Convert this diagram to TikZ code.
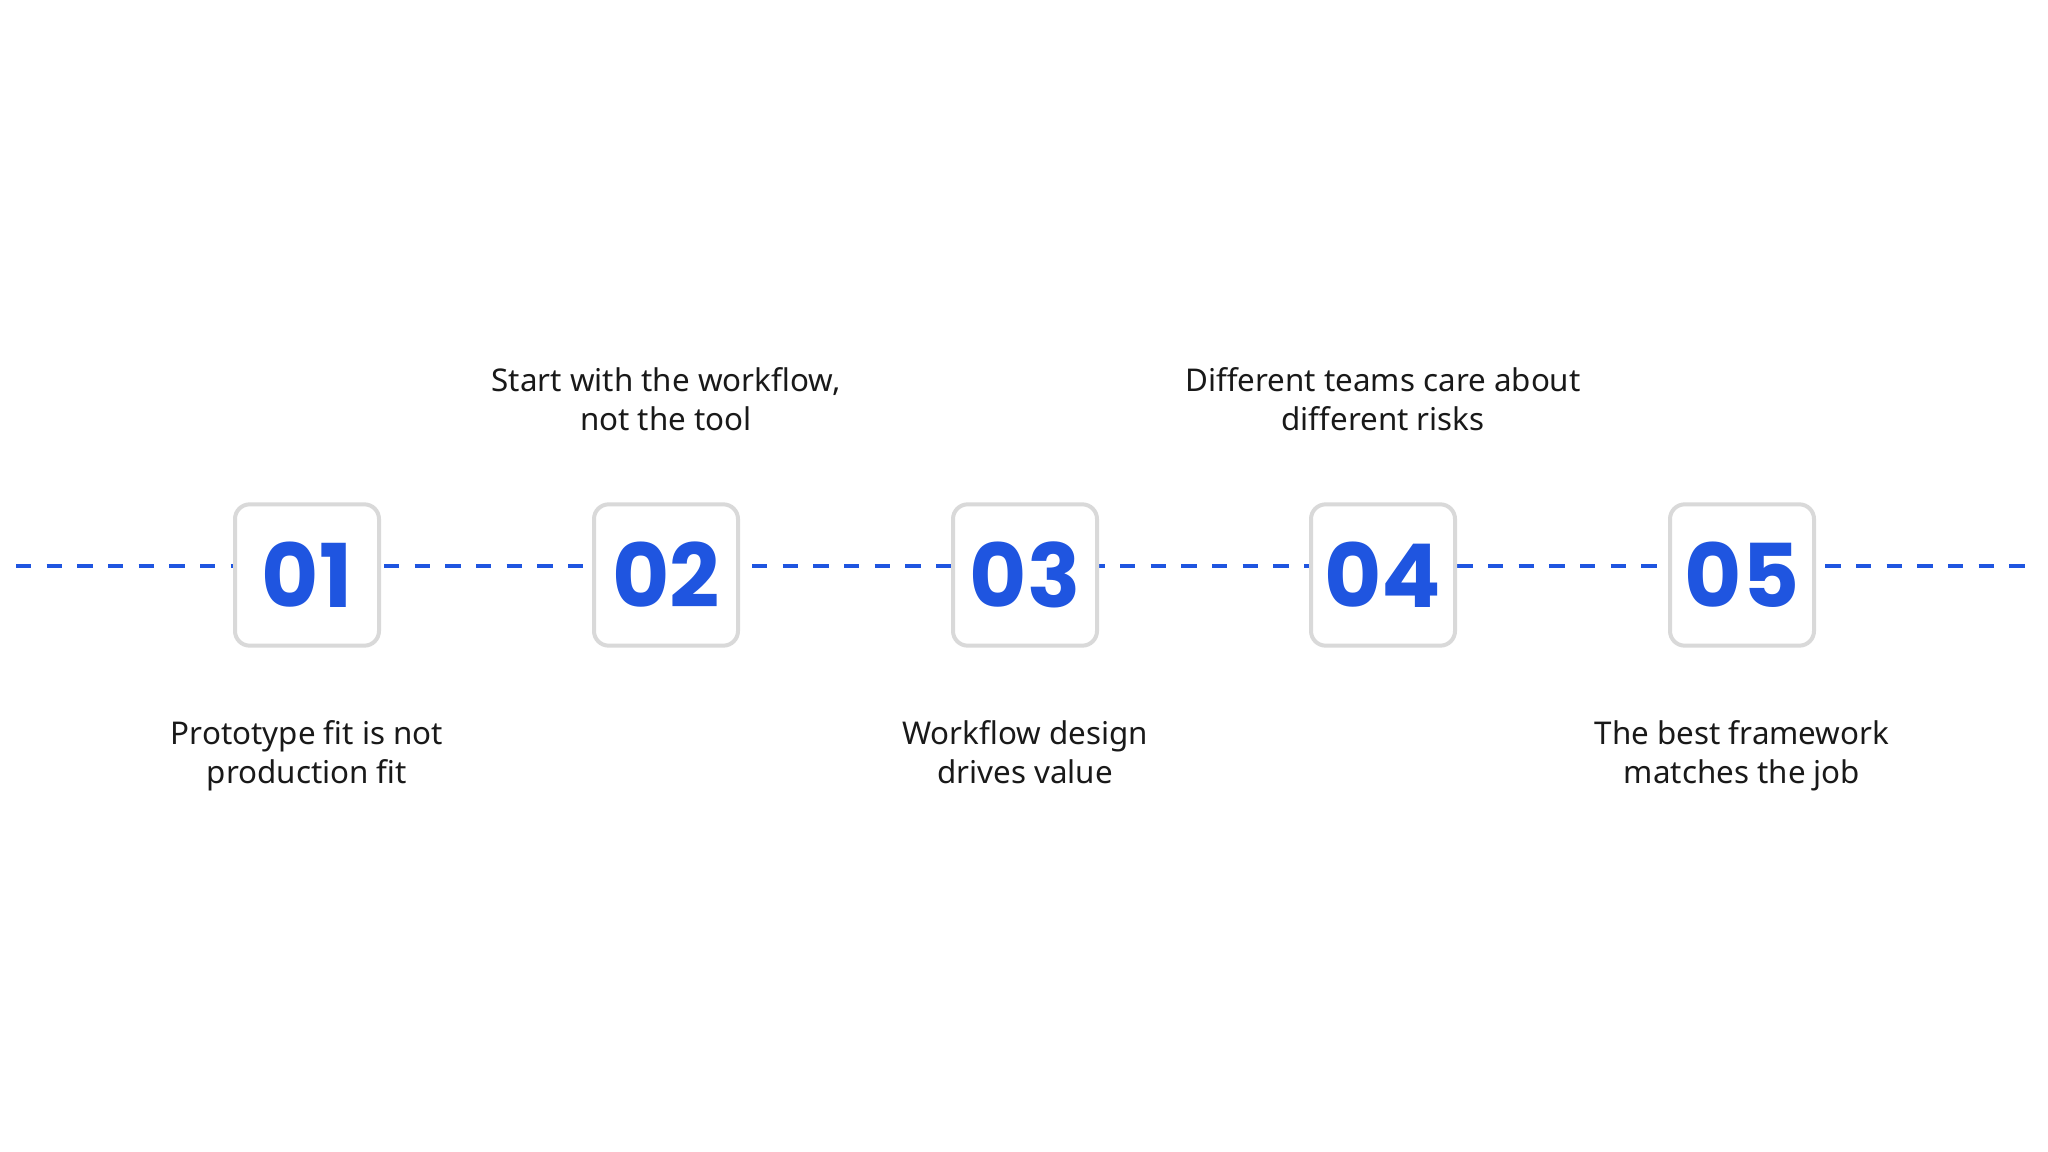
\documentclass[tikz,border=0pt]{standalone}
\usepackage{fontspec}
\setmainfont{Noto Sans}
\newfontfamily\numfont{Poppins}
\begin{document}
\begin{tikzpicture}[x=0.75pt,y=-0.75pt,
  line/.style={draw=blueA,line width=3.5pt,dash pattern=on 11.5pt off 11.5pt},
  box/.style={draw=grayA,fill=white,line width=3pt,rounded corners=11pt,minimum width=108pt,minimum height=106pt,inner sep=0pt,font=\numfont\bfseries\fontsize{66}{66}\selectfont,text=blueA},
  lab/.style={align=center,anchor=north,inner sep=0pt,font=\fontsize{23.5}{29.5}\selectfont,text=black!90}]
\definecolor{blueA}{HTML}{1F55E0}
\definecolor{grayA}{HTML}{D9D9D9}
\useasboundingbox (0,0) rectangle (2048,1152);
\coordinate (L) at (16,566);
\coordinate (R) at (2034,566);
\draw[line] (L) -- (R);
\foreach \i/\x in {1/307,2/666,3/1025,4/1383,5/1742}{
  \node[box] (b\i) at (\x,575) {0\i};
}
\node[lab] (t2) at (666,367) {Start with the workflow,\\not the tool};
\node[lab] (t4) at (1383,367) {Different teams care about\\different risks};
\node[lab] (t1) at (307,720) {Prototype fit is not\\production fit};
\node[lab] (t3) at (1025,720) {Workflow design\\drives value};
\node[lab] (t5) at (1742,720) {The best framework\\matches the job};
\end{tikzpicture}
\end{document}
